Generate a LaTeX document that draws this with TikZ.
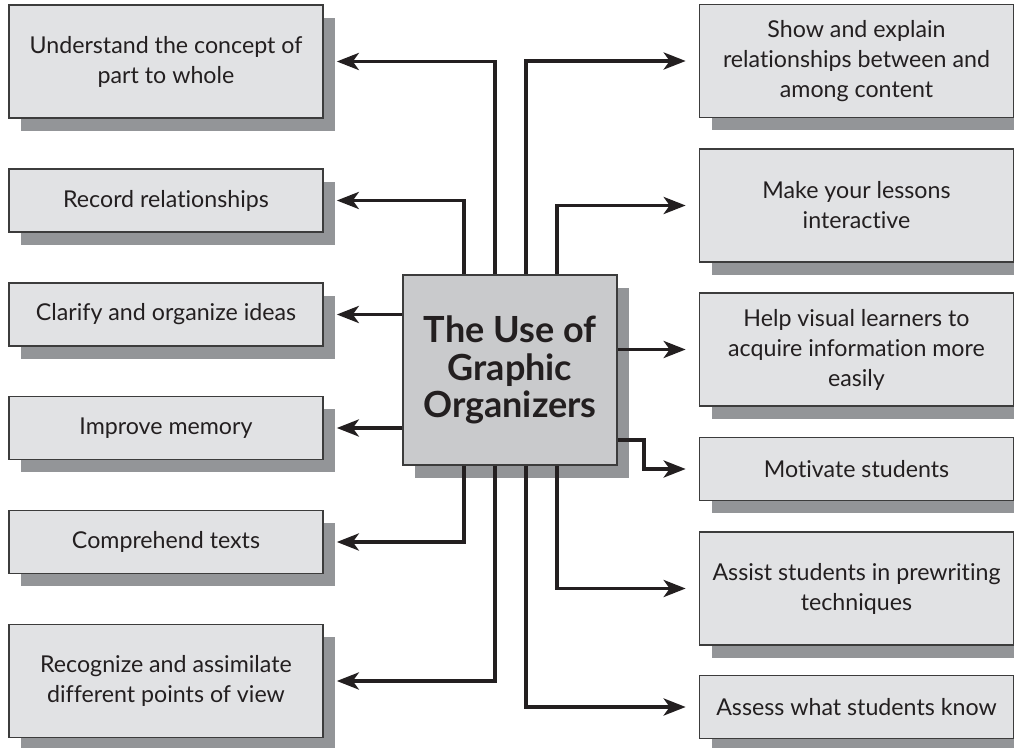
\documentclass[tikz,border=0pt]{standalone}
\usepackage{fontspec}
\setmainfont{Lato}[Ligatures=NoCommon]
\usetikzlibrary{arrows.meta,shadows}
\definecolor{boxfill}{HTML}{E1E2E4}
\definecolor{hubfill}{HTML}{C9CACC}
\definecolor{shadowgray}{HTML}{939598}
\definecolor{boxline}{HTML}{3C3C3C}
\definecolor{inkcol}{HTML}{231F20}
\begin{document}
\begin{tikzpicture}[x=0.5pt,y=-0.5pt,
    shade box/.style={draw=boxline, line width=0.8pt, text=inkcol, align=center,
        inner sep=0pt, general shadow={fill=shadowgray, shadow xshift=6pt, shadow yshift=-6.5pt}},
    item/.style={shade box, fill=boxfill, minimum width=157pt, font=\fontsize{11.6}{15}\selectfont},
    tall/.style={item, minimum height=56.5pt},
    flat/.style={item, minimum height=31.5pt},
    link/.style={draw=inkcol, line width=1.9pt,
        -{Stealth[length=11pt,width=8.5pt,inset=3pt]}, shorten >=6.5pt}]
\useasboundingbox (0,0) rectangle (1014,748);

% centre
\node[shade box, fill=hubfill, minimum width=107pt, minimum height=95pt,
      font=\bfseries\fontsize{18}{18.8}\selectfont] (hub) at (510,370)
      {The Use of\\Graphic\\Organizers};

% left column
\node[tall] (part)  at (166,61.5) {Understand the concept of\\part to whole};
\node[flat] (rec)   at (166,200.5) {Record relationships};
\node[flat] (clar)  at (166,314.5) {Clarify and organize ideas};
\node[flat] (mem)   at (166,428) {Improve memory};
\node[flat] (comp)  at (166,542) {Comprehend texts};
\node[tall] (view)  at (166,681) {Recognize and assimilate\\different points of view};

% right column
\node[tall] (show)  at (856.5,61) {Show and explain\\relationships between and\\among content};
\node[tall] (inter) at (856.5,205.5) {Make your lessons\\interactive};
\node[tall] (vis)   at (856.5,349.5) {Help visual learners to\\acquire information more\\easily};
\node[flat] (moti)  at (856.5,469) {Motivate students};
\node[tall] (prew)  at (856.5,588.5) {Assist students in prewriting\\techniques};
\node[flat] (know)  at (856.5,707) {Assess what students know};

% connectors
\draw[link] ([shift={(-15,0)}]hub.north) |- (part.east);
\draw[link] ([shift={(-46,0)}]hub.north) |- (rec.east);
\draw[link] (hub.west |- clar.east) -- (clar.east);
\draw[link] (hub.west |- mem.east) -- (mem.east);
\draw[link] ([shift={(-46,0)}]hub.south) |- (comp.east);
\draw[link] ([shift={(-15,0)}]hub.south) |- (view.east);

\draw[link] ([shift={(16,0)}]hub.north) |- (show.west);
\draw[link] ([shift={(47,0)}]hub.north) |- (inter.west);
\draw[link] (hub.east |- vis.west) -- (vis.west);
\draw[link] ([shift={(0,70)}]hub.east) -- ++(26,0) |- (moti.west);
\draw[link] ([shift={(47,0)}]hub.south) |- (prew.west);
\draw[link] ([shift={(16,0)}]hub.south) |- (know.west);
\end{tikzpicture}
\end{document}
